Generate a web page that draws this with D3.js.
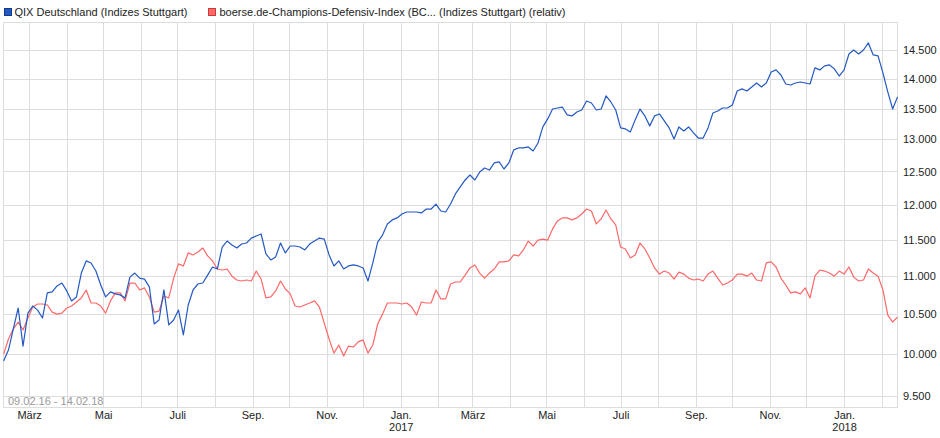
<!DOCTYPE html>
<html><head><meta charset="utf-8">
<script src="https://cdn.jsdelivr.net/npm/d3@7"></script>
<style>
html,body{margin:0;padding:0;background:#fff;}
svg{display:block;font-family:"Liberation Sans",Arial,sans-serif;}
</style></head><body>
<svg id="chart" width="940" height="438"></svg>
<script>
// ---- data ----
const seriesNames = ["QIX Deutschland (Indizes Stuttgart)", "boerse.de-Champions-Defensiv-Index (BC... (Indizes Stuttgart) (relativ)"];
const startDate = "2016-02-09";
const endDate = "2018-02-14";
const stepDays = 4; // one reading every 4 calendar days
const qixValues = [
9914,10047,10311,10578,10097,10512,10604,10551,10449,10775,
10788,10867,10906,10801,10670,10722,11040,11205,11177,11067,
10880,10722,10788,10762,10749,10709,10985,11040,10972,10959,
10854,10373,10424,10814,10361,10424,10551,10235,10617,10814,
10893,10906,11012,11122,11095,11397,11480,11425,11384,11439,
11453,11522,11551,11580,11301,11219,11260,11453,11315,11411,
11411,11397,11356,11439,11480,11522,11508,11287,11136,11205,
11095,11136,11150,11136,11109,10933,11177,11466,11565,11723,
11781,11810,11867,11896,11896,11896,11882,11939,11939,12012,
11910,11896,12012,12161,12266,12371,12446,12371,12491,12553,
12522,12631,12647,12538,12631,12834,12865,12865,12881,12818,
12943,13200,13330,13492,13509,13525,13395,13379,13443,13476,
13626,13592,13476,13492,13710,13609,13476,13184,13168,13119,
13314,13492,13379,13217,13379,13411,13297,13184,13006,13200,
13135,13200,13103,13022,13022,13184,13427,13460,13509,13509,
13559,13794,13828,13794,13862,13929,13862,13929,14118,14153,
14066,13912,13895,13929,13946,13929,13912,14188,14153,14223,
14240,14171,14048,14153,14432,14502,14432,14502,14628,14415,
14397,14101,13778,13492,13694];
const bcdiValues = [
9997,10185,10311,10398,10298,10449,10591,10630,10630,10617,
10525,10499,10512,10578,10604,10656,10709,10814,10643,10643,
10604,10512,10670,10775,10775,10670,10906,10906,10814,10841,
10722,10525,10538,10735,10709,10972,11164,11136,11315,11287,
11329,11384,11274,11205,11095,11081,11095,10998,10946,10933,
10946,10933,11067,10959,10709,10722,10801,10933,10827,10762,
10604,10591,10617,10643,10670,10591,10386,10185,10010,10110,
9974,10097,10085,10148,10173,10010,10110,10373,10499,10643,
10643,10643,10630,10643,10591,10486,10656,10643,10643,10814,
10696,10696,10893,10920,10920,11012,11109,11150,11040,10972,
11040,11095,11191,11191,11205,11287,11274,11356,11480,11411,
11494,11508,11494,11652,11767,11810,11810,11781,11810,11867,
11939,11910,11723,11795,11925,11795,11709,11397,11370,11246,
11287,11453,11370,11246,11109,11026,11067,11040,10959,11053,
11026,10972,10946,10959,10933,11026,11067,10972,10880,10906,
10946,11026,11026,10998,11040,10946,10933,11177,11191,11122,
10972,10880,10775,10788,10762,10841,10709,10998,11081,11067,
11040,10998,11067,11026,11122,10985,10933,10946,11095,11040,
10998,10814,10486,10398,10461];
const yTicks = [9500,10000,10500,11000,11500,12000,12500,13000,13500,14000,14500];
const monthNames = ["Jan.","Feb.","März","Apr.","Mai","Juni","Juli","Aug.","Sep.","Okt.","Nov.","Dez."];
const labeledMonths = [0,2,4,6,8,10];
const rangeLabel = "09.02.16 - 14.02.18";
const colors = ["#2459c2", "#ff6868"];

// ---- chart ----
const svg = d3.select("#chart");
const parse = d3.timeParse("%Y-%m-%d");
const t0 = parse(startDate), t1 = parse(endDate);
const L = 3, R = 898, T = 22, B = 407.5;

const x = d3.scaleTime().domain([t0, t1]).range([3.6, 897.5]);
const y = d3.scaleLog().domain([9366, 15000]).range([B, 22.4]);

const de = d3.formatLocale({decimal: ",", thousands: ".", grouping: [3], currency: ["", "€"]});
const fmt = de.format(",d");

// frame
svg.append("rect").attr("x", L + 0.5).attr("y", T + 0.5).attr("width", R - L - 1).attr("height", B - T - 0.5)
  .attr("fill", "#fff").attr("stroke", "#dddddd");

// y axis + horizontal grid
const yAxis = svg.append("g").attr("transform", `translate(${R},0)`)
  .call(d3.axisRight(y).tickValues(yTicks).tickFormat(fmt).tickSize(-(R - L)).tickPadding(5));
yAxis.select(".domain").remove();
yAxis.selectAll(".tick line").attr("stroke", "#dddddd").attr("shape-rendering", "crispEdges");
yAxis.selectAll(".tick text").attr("fill", "#222").attr("font-size", 11).attr("font-family", "Liberation Sans, Arial, sans-serif");

// x axis + vertical grid
const months = d3.timeMonth.range(d3.timeMonth.ceil(t0), t1);
const xAxis = svg.append("g").attr("transform", `translate(0,${B})`)
  .call(d3.axisBottom(x).tickValues(months)
    .tickFormat(d => labeledMonths.includes(d.getMonth()) ? monthNames[d.getMonth()] : "")
    .tickSize(-(B - T)).tickPadding(4));
xAxis.select(".domain").remove();
xAxis.selectAll(".tick line").attr("stroke", "#dddddd").attr("shape-rendering", "crispEdges");
xAxis.selectAll(".tick text").attr("fill", "#222").attr("font-size", 11).attr("font-family", "Liberation Sans, Arial, sans-serif");
xAxis.selectAll(".tick").filter(d => d.getMonth() === 0).append("text")
  .attr("fill", "#222").attr("font-size", 11).attr("font-family", "Liberation Sans, Arial, sans-serif")
  .attr("text-anchor", "middle").attr("y", 23.5).text(d => d.getFullYear());

// range label
svg.append("text").attr("x", 8).attr("y", 404.5).attr("font-size", 11).attr("fill", "#9a9a9a").text(rangeLabel);

// lines
svg.append("clipPath").attr("id", "clip").append("rect").attr("x", L).attr("y", T).attr("width", R - L).attr("height", B - T);
const makeData = vals => vals.map((v, i) => ({date: d3.timeDay.offset(t0, i * stepDays), value: v}));
const line = d3.line().x(d => x(d.date)).y(d => y(d.value));
const plot = svg.append("g").attr("clip-path", "url(#clip)");
[[bcdiValues, colors[1]], [qixValues, colors[0]]].forEach(([vals, c]) => {
  plot.append("path").datum(makeData(vals)).attr("d", line).attr("fill", "none")
    .attr("stroke", c).attr("stroke-width", 1.2).attr("stroke-linejoin", "round");
});

// legend
const legend = [{x: 4, tx: 14.5, name: seriesNames[0], c: colors[0], s: "#123a8a"},
                {x: 208, tx: 219.5, name: seriesNames[1], c: colors[1], s: "#c83c3c"}];
legend.forEach(l => {
  svg.append("rect").attr("x", l.x + 0.5).attr("y", 8.5).attr("width", 7).attr("height", 7)
    .attr("fill", l.c).attr("stroke", l.s).attr("stroke-width", 1);
  svg.append("text").attr("x", l.tx).attr("y", 16).attr("font-size", 11).attr("fill", "#222").text(l.name);
});
</script>
</body></html>
